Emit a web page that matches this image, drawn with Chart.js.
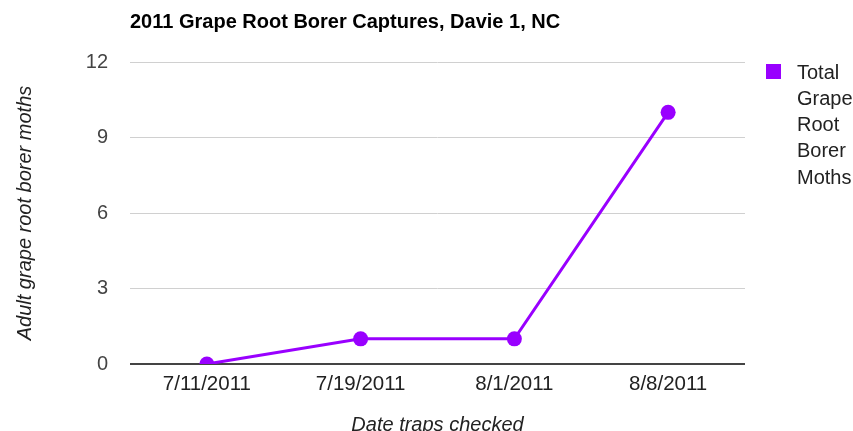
<!DOCTYPE html>
<html>
<head>
<meta charset="utf-8">
<script src="https://cdn.jsdelivr.net/npm/chart.js@4.4.0/dist/chart.umd.min.js"></script>
<style>
  html, body { margin: 0; padding: 0; background: #fff; overflow: hidden; }
  #wrap { width: 853px; height: 431px; }
</style>
</head>
<body>
<div id="wrap"><canvas id="c" width="853" height="431"></canvas></div>
<script>
const chartTitle = '2011 Grape Root Borer Captures, Davie 1, NC';
const categories = ['7/11/2011', '7/19/2011', '8/1/2011', '8/8/2011'];
const mothCounts = [0, 1, 1, 10];
const seriesLabel = 'Total Grape Root Borer Moths';
const yTicks = [0, 3, 6, 9, 12];
const yAxisTitle = 'Adult grape root borer moths';
const xAxisTitle = 'Date traps checked';

const FONT = '"Liberation Sans", Arial, sans-serif';
const PURPLE = '#9900ff';

const titleAndLegend = {
  id: 'titleAndLegend',
  afterDraw(chart) {
    const ctx = chart.ctx;
    const area = chart.chartArea;
    ctx.save();
    // title
    ctx.font = 'bold 20px ' + FONT;
    ctx.fillStyle = '#000';
    ctx.textAlign = 'left';
    ctx.textBaseline = 'middle';
    ctx.fillText(chartTitle, area.left, 22);
    // legend
    const ds = chart.data.datasets[0];
    ctx.fillStyle = ds.borderColor;
    ctx.fillRect(area.right + 21, area.top + 2, 15, 15);
    ctx.font = '20px ' + FONT;
    ctx.fillStyle = '#222';
    const words = ds.label.split(' ');
    words.forEach((w, i) => {
      ctx.fillText(w, area.right + 52, area.top + 11 + i * 26.3);
    });
    ctx.restore();
  }
};

new Chart(document.getElementById('c'), {
  type: 'line',
  data: {
    labels: categories,
    datasets: [{
      label: seriesLabel,
      data: mothCounts,
      borderColor: PURPLE,
      backgroundColor: PURPLE,
      pointBackgroundColor: PURPLE,
      pointBorderWidth: 0,
      pointRadius: 7.5,
      borderWidth: 3,
      tension: 0,
      clip: 0
    }]
  },
  options: {
    responsive: false,
    animation: false,
    devicePixelRatio: 1,
    layout: { padding: { left: 0, right: 108, top: 62, bottom: 0 } },
    plugins: {
      legend: { display: false },
      title: { display: false },
      tooltip: { enabled: false }
    },
    scales: {
      x: {
        offset: true,
        grid: { display: false, drawTicks: false },
        border: { display: false },
        ticks: { color: '#222', font: { family: FONT, size: 20.5 }, padding: 8, maxRotation: 0 },
        title: { display: true, text: xAxisTitle, color: '#222', font: { family: FONT, size: 20, style: 'italic' }, padding: { top: 0, bottom: -6 } },
        afterFit(scale) { scale.height = 67; }
      },
      y: {
        min: 0,
        max: 12,
        afterBuildTicks(scale) { scale.ticks = yTicks.map(v => ({ value: v })); },
        grid: {
          drawTicks: false,
          color: (c) => c.tick && c.tick.value === 0 ? '#444' : '#d0d0d0',
          lineWidth: (c) => c.tick && c.tick.value === 0 ? 2 : 1
        },
        border: { display: false },
        ticks: { color: '#444', font: { family: FONT, size: 20 }, padding: 22 },
        title: { display: true, text: yAxisTitle, color: '#222', font: { family: FONT, size: 20, style: 'italic' }, padding: { top: 13, bottom: 0 } },
        afterFit(scale) { scale.width = 130; }
      }
    }
  },
  plugins: [titleAndLegend]
});
</script>
</body>
</html>
